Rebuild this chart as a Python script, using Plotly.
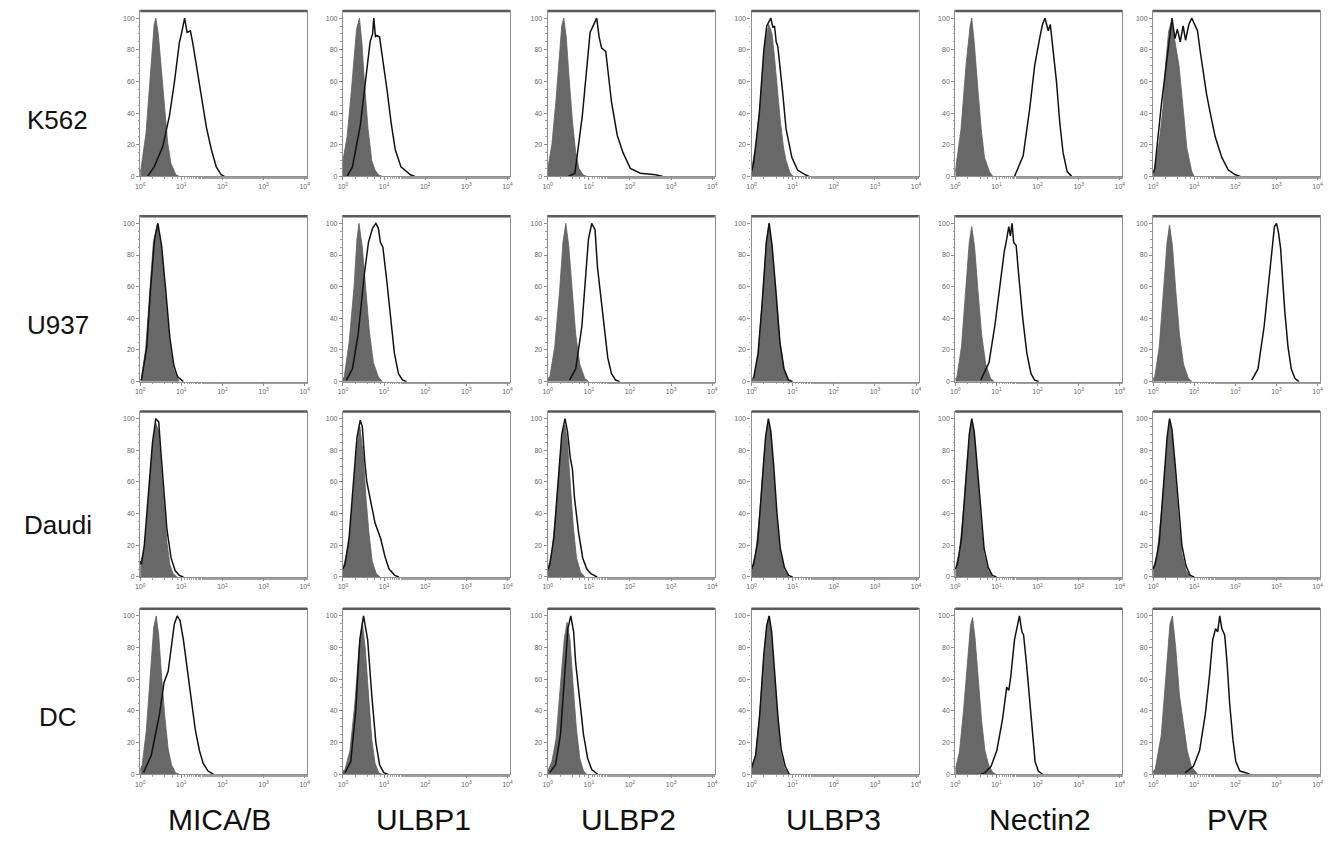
import plotly.graph_objects as go

# Flow cytometry overlays: isotype control (grey, filled) vs. specific stain (black line)
CELL_LINES = ["K562", "U937", "Daudi", "DC"]
MARKERS = ["MICA/B", "ULBP1", "ULBP2", "ULBP3", "Nectin2", "PVR"]

X_TICK_VALUES = [1, 10, 100, 1000, 10000]
X_TICK_LABELS = ["10<sup>0</sup>", "10<sup>1</sup>", "10<sup>2</sup>", "10<sup>3</sup>", "10<sup>4</sup>"]
Y_TICK_VALUES = [0, 20, 40, 60, 80, 100]
Y_TICK_LABELS = ["0", "20", "40", "60", "80", "100"]

# Each histogram: (log10 fluorescence, % of max)
K562_ISOTYPE = {
    "MICA/B": ([0.0, 0.02, 0.14, 0.26, 0.34, 0.38, 0.44, 0.51, 0.59, 0.67, 0.75, 0.87, 0.95],
               [3, 5, 27, 69, 96, 100, 90, 69, 42, 21, 8, 1, 0]),
    "ULBP1": ([0.0, 0.1, 0.19, 0.28, 0.33, 0.40, 0.46, 0.52, 0.61, 0.70, 0.78, 0.86, 0.95],
              [10, 25, 50, 80, 93, 100, 85, 60, 30, 10, 4, 1, 0]),
    "ULBP2": ([0.0, 0.1, 0.2, 0.28, 0.34, 0.39, 0.45, 0.52, 0.6, 0.68, 0.76, 0.86, 0.95],
              [5, 20, 48, 78, 95, 100, 88, 62, 35, 15, 5, 1, 0]),
    "ULBP3": ([0.0, 0.1, 0.19, 0.27, 0.33, 0.42, 0.5, 0.56, 0.63, 0.70, 0.78, 0.84, 0.94, 1.02],
              [5, 18, 40, 65, 85, 96, 90, 75, 55, 35, 18, 10, 2, 0]),
    "Nectin2": ([0.0, 0.14, 0.26, 0.36, 0.40, 0.46, 0.55, 0.63, 0.71, 0.83, 0.91],
                [3, 30, 70, 95, 100, 85, 55, 30, 12, 3, 0]),
    "PVR": ([0.0, 0.04, 0.15, 0.24, 0.30, 0.38, 0.45, 0.52, 0.63, 0.73, 0.82, 0.94, 1.0],
            [2, 5, 22, 43, 70, 92, 98, 88, 70, 43, 18, 3, 0]),
}
K562_STAINED = {
    "MICA/B": ([0.18, 0.34, 0.55, 0.71, 0.83, 0.95, 1.01, 1.08, 1.14, 1.22, 1.28, 1.36, 1.48, 1.61, 1.73, 1.85, 1.97, 2.05],
               [0, 6, 19, 38, 59, 84, 91, 100, 91, 92, 84, 71, 50, 31, 17, 6, 1, 0]),
    "ULBP1": ([0.1, 0.23, 0.42, 0.56, 0.66, 0.72, 0.75, 0.79, 0.82, 0.89, 0.98, 1.08, 1.17, 1.27, 1.41, 1.64, 1.75],
              [0, 6, 32, 64, 85, 90, 100, 88, 89, 88, 72, 53, 34, 17, 6, 1, 0]),
    "ULBP2": ([0.5, 0.66, 0.84, 1.03, 1.12, 1.19, 1.25, 1.31, 1.41, 1.55, 1.69, 1.83, 2.01, 2.25, 2.62, 2.8],
              [0, 2, 38, 91, 96, 100, 88, 81, 79, 47, 26, 15, 5, 2, 1, 0]),
    "ULBP3": ([0.0, 0.05, 0.19, 0.3, 0.37, 0.42, 0.47, 0.52, 0.56, 0.6, 0.64, 0.75, 0.84, 0.98, 1.12, 1.31, 1.4],
              [3, 8, 40, 80, 95, 98, 100, 94, 95, 85, 82, 55, 30, 12, 4, 1, 0]),
    "Nectin2": ([1.44, 1.65, 1.81, 1.93, 2.05, 2.12, 2.18, 2.26, 2.31, 2.38, 2.46, 2.54, 2.62, 2.72, 2.83],
                [0, 13, 43, 70, 87, 96, 100, 92, 96, 81, 60, 34, 15, 3, 0]),
    "PVR": ([0.0, 0.04, 0.2, 0.33, 0.41, 0.46, 0.53, 0.59, 0.66, 0.73, 0.79, 0.87, 0.94, 1.02, 1.08, 1.14,
             1.22, 1.30, 1.39, 1.51, 1.67, 1.83, 2.0, 2.12],
            [2, 5, 45, 72, 88, 100, 87, 93, 85, 95, 86, 96, 100, 95, 92, 80, 65, 52, 40, 25, 12, 4, 1, 0]),
}

U937_ISOTYPE = {
    "MICA/B": ([0.0, 0.03, 0.13, 0.22, 0.32, 0.42, 0.51, 0.61, 0.71, 0.81, 0.95],
               [1, 2, 20, 55, 88, 100, 85, 55, 25, 8, 0]),
    "ULBP1": ([0.0, 0.03, 0.15, 0.27, 0.34, 0.39, 0.47, 0.55, 0.64, 0.74, 0.86, 0.96],
              [2, 3, 25, 60, 90, 100, 85, 60, 32, 12, 3, 0]),
    "ULBP2": ([0.0, 0.05, 0.17, 0.29, 0.37, 0.44, 0.51, 0.59, 0.68, 0.78, 0.9, 1.0],
              [2, 3, 22, 58, 88, 100, 86, 58, 30, 11, 2, 0]),
    "ULBP3": ([0.0, 0.07, 0.16, 0.26, 0.36, 0.42, 0.50, 0.60, 0.69, 0.79, 0.90, 0.98],
              [2, 3, 18, 50, 88, 100, 85, 55, 25, 8, 1, 0]),
    "Nectin2": ([0.0, 0.04, 0.15, 0.26, 0.34, 0.40, 0.47, 0.55, 0.64, 0.74, 0.86, 0.95],
                [2, 3, 22, 58, 88, 98, 85, 58, 30, 11, 2, 0]),
    "PVR": ([0.0, 0.04, 0.15, 0.26, 0.34, 0.40, 0.47, 0.55, 0.64, 0.74, 0.86, 0.95],
            [2, 3, 22, 58, 88, 99, 86, 58, 30, 11, 2, 0]),
}
U937_STAINED = {
    "MICA/B": ([0.03, 0.16, 0.25, 0.35, 0.43, 0.52, 0.62, 0.72, 0.82, 0.91, 1.05],
               [1, 22, 58, 90, 100, 86, 58, 28, 10, 3, 0]),
    "ULBP1": ([0.08, 0.23, 0.37, 0.52, 0.62, 0.72, 0.80, 0.86, 0.91, 0.97, 1.06, 1.16, 1.25, 1.35, 1.45, 1.55],
              [1, 8, 30, 68, 88, 97, 100, 97, 88, 85, 65, 40, 18, 5, 1, 0]),
    "ULBP2": ([0.53, 0.68, 0.83, 0.92, 0.99, 1.07, 1.15, 1.21, 1.28, 1.36, 1.46, 1.55, 1.65, 1.75],
              [1, 8, 35, 65, 90, 100, 96, 72, 55, 35, 15, 5, 1, 0]),
    "ULBP3": ([0.05, 0.16, 0.26, 0.36, 0.43, 0.5, 0.6, 0.69, 0.79, 0.9, 1.0],
              [2, 18, 50, 88, 100, 86, 55, 25, 8, 1, 0]),
    "Nectin2": ([0.62, 0.82, 0.96, 1.09, 1.19, 1.25, 1.30, 1.34, 1.38, 1.42, 1.48, 1.55, 1.64, 1.74, 1.84, 1.93, 2.03],
                [1, 12, 35, 62, 82, 90, 98, 92, 100, 88, 86, 65, 40, 18, 5, 1, 0]),
    "PVR": ([2.4, 2.55, 2.7, 2.8, 2.9, 2.95, 3.0, 3.05, 3.1, 3.13, 3.2, 3.28, 3.36, 3.45, 3.55],
            [1, 8, 35, 62, 88, 98, 100, 94, 84, 70, 45, 22, 8, 2, 0]),
}

DAUDI_ISOTYPE = {
    "MICA/B": ([0.0, 0.1, 0.2, 0.3, 0.38, 0.45, 0.5, 0.58, 0.65, 0.72, 0.8, 0.9],
               [8, 18, 48, 82, 97, 92, 72, 45, 22, 8, 2, 0]),
    "ULBP1": ([0.0, 0.15, 0.24, 0.34, 0.41, 0.49, 0.56, 0.63, 0.71, 0.81, 0.9],
              [5, 22, 50, 82, 95, 78, 50, 28, 10, 2, 0]),
    "ULBP2": ([0.0, 0.1, 0.2, 0.3, 0.37, 0.42, 0.48, 0.55, 0.62, 0.7, 0.8, 0.9],
              [5, 15, 42, 75, 92, 96, 85, 58, 32, 12, 3, 0]),
    "ULBP3": ([0.0, 0.1, 0.2, 0.3, 0.37, 0.41, 0.47, 0.54, 0.62, 0.7, 0.8, 0.9],
              [5, 15, 40, 75, 92, 98, 90, 66, 36, 15, 4, 0]),
    "Nectin2": ([0.0, 0.1, 0.2, 0.3, 0.37, 0.41, 0.47, 0.54, 0.62, 0.7, 0.8, 0.9],
                [5, 16, 42, 76, 93, 98, 88, 62, 35, 14, 4, 0]),
    "PVR": ([0.0, 0.1, 0.2, 0.3, 0.37, 0.41, 0.47, 0.54, 0.62, 0.7, 0.8, 0.9],
            [5, 15, 40, 74, 92, 97, 88, 64, 36, 15, 4, 0]),
}
DAUDI_STAINED = {
    "MICA/B": ([0.0, 0.03, 0.1, 0.2, 0.3, 0.38, 0.45, 0.5, 0.58, 0.65, 0.75, 0.85, 0.95, 1.05],
               [10, 8, 20, 50, 85, 100, 98, 80, 55, 30, 12, 4, 1, 0]),
    "ULBP1": ([0.0, 0.05, 0.15, 0.24, 0.34, 0.42, 0.47, 0.53, 0.58, 0.68, 0.78, 0.85, 0.92, 1.02, 1.12, 1.26, 1.36],
              [5, 8, 25, 55, 88, 99, 95, 73, 60, 47, 34, 29, 24, 13, 5, 1, 0]),
    "ULBP2": ([0.0, 0.05, 0.15, 0.25, 0.34, 0.42, 0.48, 0.55, 0.6, 0.65, 0.75, 0.85, 0.95, 1.05, 1.2],
              [4, 8, 25, 58, 90, 100, 92, 75, 68, 50, 28, 12, 5, 2, 0]),
    "ULBP3": ([0.0, 0.05, 0.15, 0.25, 0.34, 0.41, 0.47, 0.54, 0.62, 0.7, 0.8, 0.9, 1.0],
              [5, 8, 22, 55, 88, 100, 92, 70, 40, 18, 6, 1, 0]),
    "Nectin2": ([0.0, 0.05, 0.15, 0.25, 0.34, 0.40, 0.46, 0.54, 0.62, 0.7, 0.8, 0.9, 1.0],
                [5, 8, 24, 58, 90, 100, 92, 68, 40, 18, 6, 1, 0]),
    "PVR": ([0.0, 0.05, 0.15, 0.25, 0.34, 0.40, 0.46, 0.54, 0.62, 0.7, 0.8, 0.9, 1.0],
            [5, 8, 22, 55, 88, 100, 93, 70, 42, 20, 7, 1, 0]),
}

DC_ISOTYPE = {
    "MICA/B": ([0.0, 0.05, 0.15, 0.25, 0.33, 0.39, 0.45, 0.52, 0.6, 0.68, 0.76, 0.86, 0.95],
               [3, 6, 28, 65, 93, 100, 88, 62, 36, 16, 6, 1, 0]),
    "ULBP1": ([0.0, 0.05, 0.17, 0.29, 0.39, 0.47, 0.54, 0.62, 0.7, 0.78, 0.87, 0.95],
              [2, 3, 15, 45, 80, 96, 80, 50, 22, 7, 1, 0]),
    "ULBP2": ([0.0, 0.1, 0.2, 0.3, 0.4, 0.47, 0.54, 0.62, 0.7, 0.78, 0.87, 0.95],
              [2, 8, 22, 52, 85, 96, 85, 55, 28, 10, 2, 0]),
    "ULBP3": ([0.0, 0.1, 0.2, 0.3, 0.37, 0.42, 0.48, 0.55, 0.63, 0.7, 0.8, 0.9],
              [4, 12, 38, 75, 93, 100, 90, 64, 36, 15, 4, 0]),
    "Nectin2": ([0.0, 0.1, 0.2, 0.3, 0.37, 0.42, 0.48, 0.56, 0.64, 0.72, 0.82, 0.92, 1.0],
                [3, 14, 40, 75, 94, 99, 86, 60, 34, 15, 5, 1, 0]),
    "PVR": ([0.0, 0.05, 0.2, 0.31, 0.41, 0.47, 0.55, 0.64, 0.74, 0.83, 0.93, 1.08],
            [2, 3, 25, 65, 95, 100, 80, 50, 30, 15, 5, 0]),
}
DC_STAINED = {
    "MICA/B": ([0.08, 0.27, 0.47, 0.58, 0.68, 0.76, 0.83, 0.90, 0.97, 1.05, 1.15, 1.24, 1.34, 1.44, 1.53, 1.65, 1.78],
               [1, 12, 38, 58, 65, 80, 95, 100, 97, 85, 65, 45, 28, 15, 7, 2, 0]),
    "ULBP1": ([0.05, 0.19, 0.31, 0.41, 0.50, 0.60, 0.70, 0.80, 0.89, 0.99, 1.09],
              [1, 8, 40, 85, 100, 85, 50, 20, 6, 1, 0]),
    "ULBP2": ([0.05, 0.19, 0.31, 0.41, 0.49, 0.56, 0.63, 0.68, 0.78, 0.87, 0.97, 1.07, 1.21],
              [1, 6, 25, 65, 92, 100, 90, 70, 45, 25, 10, 3, 0]),
    "ULBP3": ([0.0, 0.1, 0.2, 0.3, 0.37, 0.43, 0.49, 0.56, 0.64, 0.72, 0.82, 0.92],
              [4, 12, 38, 76, 94, 100, 90, 65, 37, 16, 5, 0]),
    "Nectin2": ([0.62, 0.72, 0.87, 1.01, 1.15, 1.25, 1.30, 1.35, 1.44, 1.51, 1.56, 1.62, 1.66, 1.73, 1.81, 1.88,
                 1.94, 2.02, 2.12],
                [0, 1, 5, 15, 35, 55, 53, 62, 85, 93, 100, 90, 88, 70, 45, 22, 8, 2, 0]),
    "PVR": ([0.78, 0.98, 1.13, 1.27, 1.37, 1.45, 1.52, 1.57, 1.62, 1.67, 1.74, 1.80, 1.86, 1.94, 2.01, 2.11,
             2.25, 2.35],
            [1, 5, 15, 38, 62, 85, 92, 90, 100, 92, 88, 70, 45, 22, 8, 2, 1, 0]),
}

ISOTYPE = {"K562": K562_ISOTYPE, "U937": U937_ISOTYPE, "Daudi": DAUDI_ISOTYPE, "DC": DC_ISOTYPE}
STAINED = {"K562": K562_STAINED, "U937": U937_STAINED, "Daudi": DAUDI_STAINED, "DC": DC_STAINED}

# Page geometry (pixels)
W, H = 1338, 845
COL_LEFT = [136, 340, 546, 751, 956, 1155]
ROW_TOP = [11, 217, 413, 611]
PANEL_W, PANEL_H = 168, 166
ROW_LABEL_Y = [120, 326, 527, 720]
ROW_LABEL_X = 53
COL_LABEL_X = [216, 421, 627, 833, 1041, 1240]
COL_LABEL_Y = 822

FRAME = "#8e8e8e"
TICK_FONT = dict(family="Liberation Sans, Arial, sans-serif", size=7, color="#666666")
ROW_FONT = dict(family="Liberation Sans, Arial, sans-serif", size=26, color="#111111")
COL_FONT = dict(family="Liberation Sans, Arial, sans-serif", size=30, color="#111111")

fig = go.Figure()
layout = {}
shapes = []
annotations = []

for r, cell in enumerate(CELL_LINES):
    for c, marker in enumerate(MARKERS):
        k = r * len(MARKERS) + c + 1
        sx = "" if k == 1 else str(k)
        xname, yname = "x" + sx, "y" + sx

        iso_x, iso_y = ISOTYPE[cell][marker]
        st_x, st_y = STAINED[cell][marker]

        fig.add_trace(go.Scatter(
            x=[10 ** v for v in iso_x], y=iso_y, mode="lines",
            fill="tozeroy", fillcolor="#686868",
            line=dict(color="#5e5e5e", width=0.8),
            xaxis=xname, yaxis=yname, showlegend=False, hoverinfo="skip"))
        fig.add_trace(go.Scatter(
            x=[10 ** v for v in st_x], y=st_y, mode="lines",
            line=dict(color="#111111", width=1.5),
            xaxis=xname, yaxis=yname, showlegend=False, hoverinfo="skip"))

        left = COL_LEFT[c]
        top = ROW_TOP[r]
        layout["xaxis" + sx] = dict(
            type="log", range=[0, 4.06],
            domain=[left / W, (left + PANEL_W) / W], anchor=yname,
            showline=True, mirror=True, linecolor=FRAME, linewidth=1.2,
            ticks="outside", ticklen=3, tickcolor=FRAME, tickwidth=1,
            tickvals=X_TICK_VALUES, ticktext=X_TICK_LABELS, tickfont=TICK_FONT,
            minor=dict(ticks="outside", ticklen=1.5, tickcolor="#a0a0a0"),
            showgrid=False, zeroline=False, fixedrange=True)
        layout["yaxis" + sx] = dict(
            range=[0, 104.5],
            domain=[1 - (top + PANEL_H) / H, 1 - top / H], anchor=xname,
            showline=True, mirror=True, linecolor=FRAME, linewidth=1.2,
            ticks="outside", ticklen=3, tickcolor=FRAME, tickwidth=1,
            tickvals=Y_TICK_VALUES, ticktext=Y_TICK_LABELS, tickfont=TICK_FONT,
            minor=dict(ticks="outside", ticklen=1.5, dtick=5, tickcolor="#a0a0a0"),
            showgrid=False, zeroline=False, fixedrange=True)
        # heavier upper border of each histogram frame
        shapes.append(dict(type="line", xref=xname + " domain", yref=yname + " domain",
                           x0=0, x1=1, y0=1, y1=1, line=dict(color="#5a5a5a", width=2.5)))

for r, cell in enumerate(CELL_LINES):
    annotations.append(dict(text=cell, xref="paper", yref="paper",
                            x=ROW_LABEL_X / W, y=1 - ROW_LABEL_Y[r] / H,
                            xanchor="center", yanchor="middle", showarrow=False, font=ROW_FONT))
for c, marker in enumerate(MARKERS):
    annotations.append(dict(text=marker, xref="paper", yref="paper",
                            x=COL_LABEL_X[c] / W, y=1 - COL_LABEL_Y / H,
                            xanchor="center", yanchor="middle", showarrow=False, font=COL_FONT))

fig.update_layout(
    width=W, height=H, margin=dict(l=0, r=0, t=0, b=0),
    paper_bgcolor="white", plot_bgcolor="white",
    shapes=shapes, annotations=annotations, **layout)

fig.write_html("out.html")
